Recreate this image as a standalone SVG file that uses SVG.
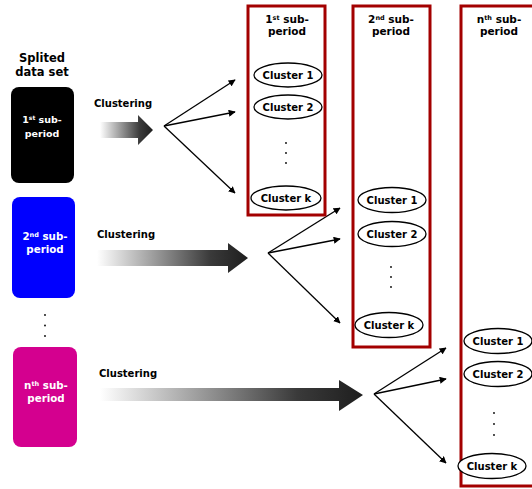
<svg xmlns="http://www.w3.org/2000/svg" width="532" height="489" viewBox="0 0 532 489">
<defs>
<linearGradient id="g" x1="0" y1="0" x2="1" y2="0">
<stop offset="0" stop-color="#ffffff"/>
<stop offset="0.75" stop-color="#3a3a3a"/>
<stop offset="1" stop-color="#1e1e1e"/>
</linearGradient>
<marker id="ah" viewBox="0 0 10 10" refX="9" refY="5" markerWidth="7" markerHeight="7" markerUnits="userSpaceOnUse" orient="auto">
<path d="M0,0 L10,5 L0,10 Z" fill="#000"/>
</marker>
</defs>
<style>
text{font-family:"DejaVu Sans","Liberation Sans",sans-serif;font-weight:bold;}
.t{font-size:10px;fill:#000;}
.w{fill:#fff;text-anchor:middle;}
.h{font-size:10.5px;fill:#000;text-anchor:middle;}
.c{font-size:10px;fill:#000;text-anchor:middle;}
.col{fill:#fff;stroke:#a30000;stroke-width:3;}
.el{fill:#fff;stroke:#000;stroke-width:1.3;}
.fan{stroke:#000;stroke-width:1.3;fill:none;marker-end:url(#ah);}
.dot{font-size:10px;fill:#000;text-anchor:middle;}
</style>
<rect width="532" height="489" fill="#fff"/>

<g id="title">
<text x="42" y="62" font-size="11.5" text-anchor="middle">Splited</text>
<text x="42" y="76" font-size="11.5" text-anchor="middle">data set</text>
</g>

<g id="sub1">
<rect x="11" y="87" width="63" height="96" rx="8" fill="#000"/>
<text class="w" x="42" y="123" font-size="9.5">1<tspan font-size="6" dy="-3">st</tspan><tspan dy="3"> sub-</tspan></text>
<text class="w" x="42" y="137" font-size="9.5">period</text>
</g>
<g id="sub2">
<rect x="12" y="197" width="63" height="101" rx="8" fill="#0000ff"/>
<text class="w" x="45" y="240" font-size="10.3">2<tspan font-size="6.5" dy="-3">nd</tspan><tspan dy="3"> sub-</tspan></text>
<text class="w" x="45" y="253" font-size="10.3">period</text>
</g>
<g id="vdots">
<circle cx="45" cy="315" r="0.9" fill="#000"/>
<circle cx="45" cy="325.5" r="0.9" fill="#000"/>
<circle cx="45" cy="336" r="0.9" fill="#000"/>
</g>
<g id="subn">
<rect x="13" y="347" width="64" height="100" rx="8" fill="#d4008f"/>
<text class="w" x="46" y="389" font-size="10.3">n<tspan font-size="6.5" dy="-3">th</tspan><tspan dy="3"> sub-</tspan></text>
<text class="w" x="46" y="402" font-size="10.3">period</text>
</g>

<g id="arrows">
<text class="t" x="94" y="107">Clustering</text>
<path d="M100,122 H138 V115 L153,130 L138,145 V138 H100 Z" fill="url(#g)"/>
<text class="t" x="97" y="238">Clustering</text>
<path d="M97,250 H228 V243 L248,258 L228,273 V266 H97 Z" fill="url(#g)"/>
<text class="t" x="99" y="377">Clustering</text>
<path d="M100,388 H339 V380 L363,395 L339,411 V401 H100 Z" fill="url(#g)"/>
</g>

<g id="connectors">
<line class="fan" x1="164" y1="126" x2="235" y2="80"/>
<line class="fan" x1="164" y1="126" x2="235" y2="112"/>
<line class="fan" x1="164" y1="126" x2="235" y2="193"/>
<line class="fan" x1="268" y1="253" x2="340" y2="208"/>
<line class="fan" x1="268" y1="253" x2="340" y2="239"/>
<line class="fan" x1="268" y1="253" x2="340" y2="323"/>
<line class="fan" x1="374" y1="394" x2="446" y2="348"/>
<line class="fan" x1="374" y1="394" x2="446" y2="379"/>
<line class="fan" x1="374" y1="394" x2="446" y2="463"/>
</g>

<g id="col1">
<rect class="col" x="248" y="6" width="77" height="209"/>
<text class="h" x="287" y="23">1<tspan font-size="6.5" dy="-3">st</tspan><tspan dy="3"> sub-</tspan></text>
<text class="h" x="287" y="35">period</text>
<ellipse class="el" cx="288" cy="75" rx="34" ry="12"/>
<text class="c" x="288" y="79">Cluster 1</text>
<ellipse class="el" cx="288" cy="107" rx="34" ry="12"/>
<text class="c" x="288" y="111">Cluster 2</text>
<circle cx="286" cy="143" r="0.9" fill="#000"/>
<circle cx="286" cy="153" r="0.9" fill="#000"/>
<circle cx="286" cy="163" r="0.9" fill="#000"/>
<ellipse class="el" cx="286" cy="198" rx="35" ry="12"/>
<text class="c" x="286" y="202">Cluster k</text>
</g>

<g id="col2">
<rect class="col" x="353" y="6" width="77" height="341"/>
<text class="h" x="391" y="23">2<tspan font-size="6.5" dy="-3">nd</tspan><tspan dy="3"> sub-</tspan></text>
<text class="h" x="391" y="35">period</text>
<ellipse class="el" cx="392" cy="200" rx="34" ry="12.5"/>
<text class="c" x="392" y="204">Cluster 1</text>
<ellipse class="el" cx="392" cy="234" rx="34" ry="12.5"/>
<text class="c" x="392" y="238">Cluster 2</text>
<circle cx="391" cy="267" r="0.9" fill="#000"/>
<circle cx="391" cy="277" r="0.9" fill="#000"/>
<circle cx="391" cy="287" r="0.9" fill="#000"/>
<ellipse class="el" cx="389" cy="325" rx="34" ry="12.5"/>
<text class="c" x="389" y="329">Cluster k</text>
</g>

<g id="coln">
<rect class="col" x="461" y="6" width="90" height="480"/>
<text class="h" x="499" y="23">n<tspan font-size="6.5" dy="-3">th</tspan><tspan dy="3"> sub-</tspan></text>
<text class="h" x="499" y="35">period</text>
<ellipse class="el" cx="498" cy="341" rx="34" ry="12.5"/>
<text class="c" x="498" y="345">Cluster 1</text>
<ellipse class="el" cx="498" cy="374" rx="34" ry="12.5"/>
<text class="c" x="498" y="378">Cluster 2</text>
<circle cx="494" cy="413" r="0.9" fill="#000"/>
<circle cx="494" cy="424" r="0.9" fill="#000"/>
<circle cx="494" cy="435" r="0.9" fill="#000"/>
<ellipse class="el" cx="492" cy="466" rx="34" ry="12.5"/>
<text class="c" x="492" y="470">Cluster k</text>
</g>
</svg>
